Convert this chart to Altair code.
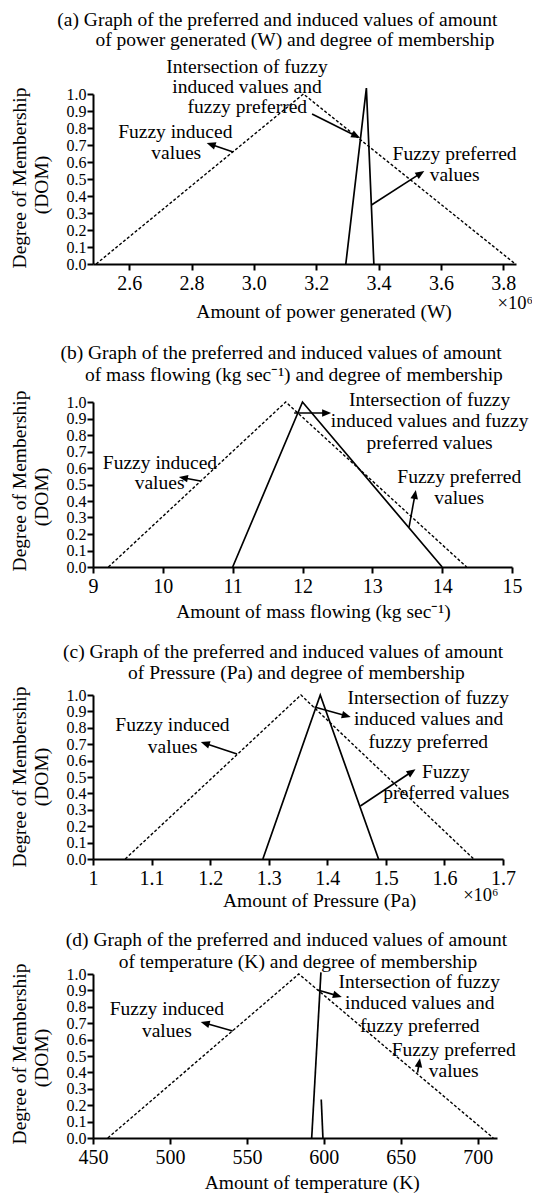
import math
import altair as alt
import pandas as pd

FONT = "Liberation Serif"
FS = 19.5      # titles / annotations
FS_XTICK = 20  # x tick labels
FS_YTICK = 16  # y tick labels

# ---------------- data (power and pressure in units of 10^6) ----------------
# (a) power generated (W)
a_ind_x = [2.494, 3.159, 3.839]
a_ind_y = [0.0, 1.0, 0.0]
a_pref_x = [3.295, 3.361, 3.385]
a_pref_y = [0.0, 1.035, 0.0]
a_pref_seg = [0, 0, 0]
# (b) mass flowing (kg/sec)
b_ind_x = [9.22, 11.76, 14.35]
b_ind_y = [0.0, 1.0, 0.0]
b_pref_x = [11.0, 12.0, 14.0]
b_pref_y = [0.0, 1.0, 0.0]
b_pref_seg = [0, 0, 0]
# (c) pressure (Pa)
c_ind_x = [1.055, 1.355, 1.65]
c_ind_y = [0.0, 1.0, 0.0]
c_pref_x = [1.29, 1.388, 1.4875]
c_pref_y = [0.0, 1.0, 0.0]
c_pref_seg = [0, 0, 0]
# (d) temperature (K)
d_ind_x = [459.6, 583.7, 710.1]
d_ind_y = [0.0, 1.0, 0.0]
d_pref_x = [592.1, 598.1, 598.3, 599.4]
d_pref_y = [0.0, 1.01, 0.235, 0.0]
d_pref_seg = [0, 0, 1, 1]

# tick labels
a_ticks = [2.6, 2.8, 3.0, 3.2, 3.4, 3.6, 3.8]
b_ticks = [9, 10, 11, 12, 13, 14, 15]
c_ticks = [1.0, 1.1, 1.2, 1.3, 1.4, 1.5, 1.6, 1.7]
d_ticks = [450, 500, 550, 600, 650, 700]
y_ticks = [0.0, 0.1, 0.2, 0.3, 0.4, 0.5, 0.6, 0.7, 0.8, 0.9, 1.0]

# texts (label, x in data units, page y in px)
a_texts = [
    ("(a)  Graph of the preferred and induced values of amount", 3.0756, 19.5),
    ("of power generated (W) and degree of membership", 3.1317, 39.5),
    ("Intersection of fuzzy", 2.978, 67),
    ("induced values and", 2.978, 87),
    ("fuzzy preferred", 2.979, 107),
    ("Fuzzy induced", 2.748, 132),
    ("values", 2.751, 153),
    ("Fuzzy preferred", 3.644, 154),
    ("values", 3.644, 175),
    ("Amount of power generated (W)", 3.2253, 312),
]
b_texts = [
    ("(b)  Graph of the preferred and induced values of amount", 11.693, 353),
    ("of mass flowing (kg sec\u207b\u00b9) and degree of membership", 11.877, 375),
    ("Intersection of fuzzy", 13.82, 400),
    ("induced values and fuzzy", 13.82, 421),
    ("preferred values", 13.82, 443),
    ("Fuzzy induced", 9.959, 463),
    ("values", 9.954, 483),
    ("Fuzzy preferred", 14.245, 477),
    ("values", 14.243, 498),
    ("Amount of mass flowing (kg sec\u207b\u00b9)", 12.157, 612),
]
c_texts = [
    ("(c) Graph of the preferred and induced values of amount", 1.3247, 652),
    ("of Pressure (Pa) and degree of membership", 1.3474, 673),
    ("Intersection of fuzzy", 1.5724, 698),
    ("induced values and", 1.573, 719),
    ("fuzzy preferred", 1.5724, 742),
    ("Fuzzy induced", 1.1356, 725),
    ("values", 1.1362, 747),
    ("Fuzzy", 1.6026, 772),
    ("preferred values", 1.6032, 793),
    ("Amount of Pressure (Pa)", 1.387, 901),
]
d_texts = [
    ("(d) Graph of the preferred and induced values of amount", 575.67, 940),
    ("of temperature (K) and degree of membership", 583.16, 962),
    ("Intersection of fuzzy", 661.98, 982),
    ("induced values and", 662.3, 1003),
    ("fuzzy preferred", 662.3, 1026),
    ("Fuzzy induced", 497.97, 1009),
    ("values", 497.97, 1031),
    ("Fuzzy preferred", 684.35, 1050),
    ("values", 684.35, 1071),
    ("Amount of temperature (K)", 592.44, 1183),
]
# arrows: (tail x, tail page y, tip x, tip page y)
a_arrows = [(3.1868, 114, 3.3409, 138), (2.9336, 152, 2.8488, 143), (3.3773, 205, 3.5468, 171)]
b_arrows = [(11.88, 413, 12.41, 413), (10.539, 481, 10.23, 477), (13.525, 527.3, 13.623, 490)]
c_arrows = [(1.3782, 707, 1.44, 717), (1.2459, 754, 1.1841, 742), (1.4565, 806, 1.5506, 769.3)]
d_arrows = [(596.02, 990, 611.67, 997), (540.79, 1031, 519.99, 1022), (660.87, 1072.7, 662.43, 1058.3)]

# ---------------- layout (one canvas, one pair of scales per panel) ----------------
PL, PT, PR, PB = 85, 0, 8, 0
CW, CH = 431, 1186
OX, OY = 8 + PL, 8 + PT          # page position of the canvas origin
HEAD = "M0,0 L-0.42,1 L0.42,1 Z"

panels = [
    dict(domain=[2.484, 3.841], width=423, top=94, bottom=264, ticks=a_ticks, fmt=".1f",
         ind=(a_ind_x, a_ind_y), pref=(a_pref_x, a_pref_y, a_pref_seg), texts=a_texts, arrows=a_arrows,
         x10=(3.782, 303), ytitle=(178, 185)),
    dict(domain=[9, 15], width=419, top=402, bottom=567, ticks=b_ticks, fmt="d",
         ind=(b_ind_x, b_ind_y), pref=(b_pref_x, b_pref_y, b_pref_seg), texts=b_texts, arrows=b_arrows,
         x10=None, ytitle=(481, 497)),
    dict(domain=[1.0, 1.7], width=410, top=695, bottom=859, ticks=c_ticks, fmt=".1~f",
         ind=(c_ind_x, c_ind_y), pref=(c_pref_x, c_pref_y, c_pref_seg), texts=c_texts, arrows=c_arrows,
         x10=(1.632, 895), ytitle=(777, 777)),
    dict(domain=[450, 712.5], width=404, top=974, bottom=1138, ticks=d_ticks, fmt="d",
         ind=(d_ind_x, d_ind_y), pref=(d_pref_x, d_pref_y, d_pref_seg), texts=d_texts, arrows=d_arrows,
         x10=None, ytitle=(1054, 1058)),
]


def panel_layers(p):
    d0, d1 = p["domain"]
    W = p["width"]
    top, bot = p["top"], p["bottom"]
    h = bot - top

    def to_px(x):
        return OX + (x - d0) / (d1 - d0) * W

    def to_dx(X):
        return d0 + (X - OX) / W * (d1 - d0)

    def to_dy(Y):
        return (bot - Y) / h

    xs = alt.Scale(domain=[d0, d1], range=[0, W], nice=False, zero=False)
    ys = alt.Scale(domain=[0, 1], range=[bot - OY, top - OY], nice=False, zero=False)
    xaxis = alt.Axis(orient="bottom", offset=(bot - OY) - CH, values=p["ticks"], format=p["fmt"],
                     title=None, grid=False, labelFlush=False, labelOverlap=False)
    yaxis = alt.Axis(orient="left", values=y_ticks, format=".1f", title=None, grid=False,
                     labelFlush=False, labelOverlap=False)

    def X(f, axis=False):
        if axis:
            return alt.X(f, type="quantitative", scale=xs, axis=xaxis)
        return alt.X(f, type="quantitative", scale=xs, axis=None)

    def Y(f, axis=False):
        if axis:
            return alt.Y(f, type="quantitative", scale=ys, axis=yaxis)
        return alt.Y(f, type="quantitative", scale=ys, axis=None)

    ind = pd.DataFrame({"x": p["ind"][0], "y": p["ind"][1]})
    pref = pd.DataFrame({"x": p["pref"][0], "y": p["pref"][1], "seg": p["pref"][2]})

    dashed = alt.Chart(ind).mark_line(color="black", strokeWidth=1.4, strokeDash=[3, 2]).encode(
        x=X("x", True), y=Y("y", True))
    solid = alt.Chart(pref).mark_line(color="black", strokeWidth=1.7).encode(
        x=X("x"), y=Y("y"), detail="seg:N")

    rows = []
    for (tx, ty, hx, hy) in p["arrows"]:
        X0, Y0 = to_px(tx), ty
        X1, Y1 = to_px(hx), hy
        L = math.hypot(X1 - X0, Y1 - Y0)
        ux, uy = (X1 - X0) / L, (Y1 - Y0) / L
        ang = math.degrees(math.atan2(ux, -uy)) % 360
        sx, sy = X1 - 4 * ux, Y1 - 4 * uy
        rows.append(dict(x1=tx, y1=to_dy(Y0), x2=to_dx(sx), y2=to_dy(sy),
                         hx=hx, hy=to_dy(Y1), ang=ang))
    arr = pd.DataFrame(rows)
    shafts = alt.Chart(arr).mark_rule(color="black", strokeWidth=1.6).encode(
        x=X("x1"), y=Y("y1"), x2=alt.X2("x2"), y2=alt.Y2("y2"))
    heads = alt.Chart(arr).mark_point(shape=HEAD, filled=True, size=324, color="black",
                                      opacity=1, strokeWidth=0).encode(
        x=X("hx"), y=Y("hy"), angle=alt.Angle("ang:Q", scale=None))

    tdf = pd.DataFrame({"t": [t[0] for t in p["texts"]],
                        "x": [t[1] for t in p["texts"]],
                        "y": [to_dy(t[2]) for t in p["texts"]]})
    texts = alt.Chart(tdf).mark_text(font=FONT, fontSize=FS, color="black", align="center",
                                     baseline="middle").encode(x=X("x"), y=Y("y"), text="t:N")

    one = pd.DataFrame({"k": [0]})
    yt1 = alt.Chart(one).mark_text(font=FONT, fontSize=FS, color="black", angle=270,
                                   align="center", baseline="middle").encode(
        x=alt.value(20 - OX), y=alt.value(p["ytitle"][0] - OY), text=alt.value("Degree of Membership"))
    yt2 = alt.Chart(one).mark_text(font=FONT, fontSize=FS, color="black", angle=270,
                                   align="center", baseline="middle").encode(
        x=alt.value(42 - OX), y=alt.value(p["ytitle"][1] - OY), text=alt.value("(DOM)"))

    layers = [dashed, solid, shafts, heads, texts, yt1, yt2]
    if p["x10"] is not None:
        xdf = pd.DataFrame({"t": ["\u00d710\u2076"], "x": [p["x10"][0]], "y": [to_dy(p["x10"][1])]})
        layers.append(alt.Chart(xdf).mark_text(font=FONT, fontSize=18.5, color="black", align="left",
                                               baseline="middle").encode(x=X("x"), y=Y("y"), text="t:N"))
    return layers


all_layers = []
for p in panels:
    all_layers.extend(panel_layers(p))

chart = alt.layer(*all_layers).resolve_scale(
    x="independent", y="independent"
).resolve_axis(
    x="independent", y="independent"
).properties(
    width=CW, height=CH,
    autosize=alt.AutoSizeParams(type="none"),
    padding={"left": PL, "top": PT, "right": PR, "bottom": PB},
).configure_view(stroke=None).configure_axis(
    domainColor="black", domainWidth=2, tickColor="black", tickWidth=2, tickSize=6,
    labelColor="black", labelFont=FONT
).configure_axisX(labelPadding=3, labelFontSize=FS_XTICK).configure_axisY(
    labelPadding=1, labelFontSize=FS_YTICK)

chart.save("out.html", embed_options={"renderer": "svg", "actions": False})
